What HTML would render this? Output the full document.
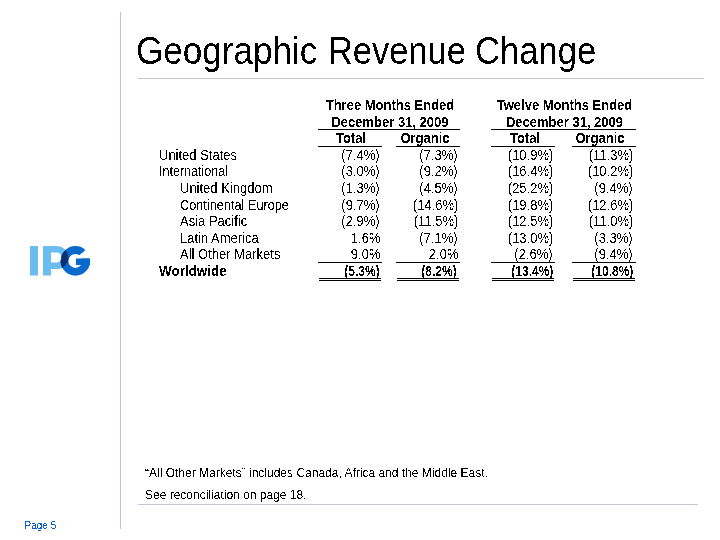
<!DOCTYPE html>
<html>
<head>
<meta charset="utf-8">
<style>
html,body{margin:0;padding:0;background:#fff;}
body{width:720px;height:540px;position:relative;overflow:hidden;font-family:"Liberation Sans",sans-serif;color:#000;}
.a{position:absolute;white-space:nowrap;}
.vl{position:absolute;left:120px;top:12px;width:1px;height:517px;background:#c4c4d4;}
.hl{position:absolute;height:1px;background:#c4c4d4;}
.title{position:absolute;left:136px;top:32px;font-size:38.5px;line-height:38px;transform:scaleX(0.906);transform-origin:0 0;white-space:nowrap;}
.t{font-size:13.8px;line-height:13px;}
.t,.title{filter:url(#crisp);}
.fn,.pg{filter:url(#crisp2);}
.b{font-weight:bold;}
.L{transform:scaleX(0.942);transform-origin:0 0;}
.R{transform:scaleX(0.942);transform-origin:100% 0;text-align:right;}
.C{transform:scaleX(0.942);transform-origin:50% 0;text-align:center;}
.bk{position:absolute;height:1px;background:#000;}
.fn{font-size:12px;line-height:12px;}
.pg{position:absolute;left:24.5px;top:521px;font-size:10px;line-height:10px;letter-spacing:0px;color:#0a5fd0;white-space:nowrap;}
</style>
</head>
<body>
<svg width="0" height="0" style="position:absolute"><filter id="crisp" x="0" y="0" width="1" height="1"><feComponentTransfer><feFuncA type="discrete" tableValues="0 1"/></feComponentTransfer></filter><filter id="crisp2" x="0" y="0" width="1" height="1"><feComponentTransfer><feFuncA type="discrete" tableValues="0 0 1 1"/></feComponentTransfer></filter></svg>
<div class="vl"></div>
<div class="hl" style="left:138px;top:78px;width:566px;"></div>
<div class="hl" style="left:138px;top:504px;width:560px;"></div>
<div class="title" style="left:136px;transform:scaleX(0.911);">Geographic</div>
<div class="title" style="left:328px;transform:scaleX(0.894);">Revenue</div>
<div class="title" style="left:475px;transform:scaleX(0.899);">Change</div>
<div class="a t b C" style="left:319px;top:99px;width:142px;">Three Months Ended</div>
<div class="a t b C" style="left:319px;top:116px;width:142px;">December 31, 2009</div>
<div class="bk" style="left:318px;top:129px;width:142px;"></div>
<div class="a t b C" style="left:492px;top:99px;width:145px;">Twelve Months Ended</div>
<div class="a t b C" style="left:492px;top:116px;width:145px;">December 31, 2009</div>
<div class="bk" style="left:491px;top:129px;width:145px;"></div>
<div class="a t b C" style="left:319px;top:132px;width:64px;">Total</div>
<div class="bk" style="left:318px;top:146px;width:64px;"></div>
<div class="a t b C" style="left:393px;top:132px;width:64px;">Organic</div>
<div class="bk" style="left:396px;top:146px;width:64px;"></div>
<div class="a t b C" style="left:492.5px;top:132px;width:64px;">Total</div>
<div class="bk" style="left:491px;top:146px;width:64px;"></div>
<div class="a t b C" style="left:568px;top:132px;width:64px;">Organic</div>
<div class="bk" style="left:572px;top:146px;width:64px;"></div>
<div class="a t L" style="left:159px;top:149px;">United States</div>
<div class="a t R" style="right:340px;top:149px;">(7.4%)</div>
<div class="a t R" style="right:262px;top:149px;">(7.3%)</div>
<div class="a t R" style="right:167px;top:149px;">(10.9%)</div>
<div class="a t R" style="right:87px;top:149px;">(11.3%)</div>
<div class="a t L" style="left:159px;top:165px;transform:scaleX(0.9081);">International</div>
<div class="a t R" style="right:340px;top:165px;">(3.0%)</div>
<div class="a t R" style="right:262px;top:165px;">(9.2%)</div>
<div class="a t R" style="right:167px;top:165px;">(16.4%)</div>
<div class="a t R" style="right:87px;top:165px;">(10.2%)</div>
<div class="a t L" style="left:180px;top:182px;">United Kingdom</div>
<div class="a t R" style="right:340px;top:182px;">(1.3%)</div>
<div class="a t R" style="right:262px;top:182px;">(4.5%)</div>
<div class="a t R" style="right:167px;top:182px;">(25.2%)</div>
<div class="a t R" style="right:87px;top:182px;">(9.4%)</div>
<div class="a t L" style="left:180px;top:199px;transform:scaleX(0.9222);">Continental Europe</div>
<div class="a t R" style="right:340px;top:199px;">(9.7%)</div>
<div class="a t R" style="right:262px;top:199px;">(14.6%)</div>
<div class="a t R" style="right:167px;top:199px;">(19.8%)</div>
<div class="a t R" style="right:87px;top:199px;">(12.6%)</div>
<div class="a t L" style="left:180px;top:215px;">Asia Pacific</div>
<div class="a t R" style="right:340px;top:215px;">(2.9%)</div>
<div class="a t R" style="right:262px;top:215px;">(11.5%)</div>
<div class="a t R" style="right:167px;top:215px;">(12.5%)</div>
<div class="a t R" style="right:87px;top:215px;">(11.0%)</div>
<div class="a t L" style="left:180px;top:232px;">Latin America</div>
<div class="a t R" style="right:340px;top:232px;">1.6%</div>
<div class="a t R" style="right:262px;top:232px;">(7.1%)</div>
<div class="a t R" style="right:167px;top:232px;">(13.0%)</div>
<div class="a t R" style="right:87px;top:232px;">(3.3%)</div>
<div class="a t L" style="left:180px;top:248px;">All Other Markets</div>
<div class="a t R" style="right:340px;top:248px;">9.0%</div>
<div class="a t R" style="right:262px;top:248px;">2.0%</div>
<div class="a t R" style="right:167px;top:248px;">(2.6%)</div>
<div class="a t R" style="right:87px;top:248px;">(9.4%)</div>
<div class="a t L b" style="left:159px;top:265px;transform:scaleX(0.9750);">Worldwide</div>
<div class="a t R b" style="right:340px;top:265px;transform:scaleX(0.87);">(5.3%)</div>
<div class="a t R b" style="right:263px;top:265px;transform:scaleX(0.87);">(8.2%)</div>
<div class="a t R b" style="right:167px;top:265px;transform:scaleX(0.87);">(13.4%)</div>
<div class="a t R b" style="right:86.5px;top:265px;transform:scaleX(0.87);">(10.8%)</div>
<div class="bk" style="left:318px;top:262px;width:64px;"></div>
<div class="bk" style="left:319px;top:278px;width:62px;"></div>
<div class="bk" style="left:319px;top:280px;width:62px;"></div>
<div class="bk" style="left:396px;top:262px;width:64px;"></div>
<div class="bk" style="left:397px;top:278px;width:62px;"></div>
<div class="bk" style="left:397px;top:280px;width:62px;"></div>
<div class="bk" style="left:491px;top:262px;width:64px;"></div>
<div class="bk" style="left:492px;top:278px;width:62px;"></div>
<div class="bk" style="left:492px;top:280px;width:62px;"></div>
<div class="bk" style="left:572px;top:262px;width:64px;"></div>
<div class="bk" style="left:573px;top:278px;width:62px;"></div>
<div class="bk" style="left:573px;top:280px;width:62px;"></div>
<div class="a fn" style="left:145px;top:467px;">&ldquo;All Other Markets&rdquo; includes Canada, Africa and the Middle East.</div>
<div class="a fn" style="left:145px;top:489px;">See reconciliation on page 18.</div>
<div class="pg">Page 5</div>
<svg class="a" style="left:0;top:0;" width="720" height="540" viewBox="0 0 720 540">
<defs>
<mask id="gm" maskUnits="userSpaceOnUse" x="0" y="0" width="720" height="540">
<path fill="#fff" fill-rule="evenodd" d="M60.6,260.9 a14.8,14.8 0 1,0 29.6,0 a14.8,14.8 0 1,0 -29.6,0 Z M68.4,260.9 a7,7 0 1,0 14,0 a7,7 0 1,0 -14,0 Z"/>
<path fill="#000" d="M85.3,238 L97,238 L97,258.5 L76,258.5 L76,257.6 L79.3,255.3 L85.3,250.3 Z"/>
<rect fill="#fff" x="75.9" y="258.5" width="14.1" height="6.5"/>
</mask>
<path id="pP" fill-rule="evenodd" d="M43,246 H56.7 A11.5,11.5 0 0 1 56.7,269 H51 V275.5 H43 Z M51,252.6 H56.7 A4.9,4.9 0 0 1 56.7,262.4 H51 Z"/>
</defs>
<rect x="30" y="246" width="8" height="29.5" fill="#6cbcf0"/>
<use href="#pP" fill="#6cbcf0"/>
<rect x="55" y="240" width="45" height="40" fill="#0a6acc" mask="url(#gm)"/>
<g mask="url(#gm)"><use href="#pP" fill="#0a3070"/></g>
</svg>
</body>
</html>
